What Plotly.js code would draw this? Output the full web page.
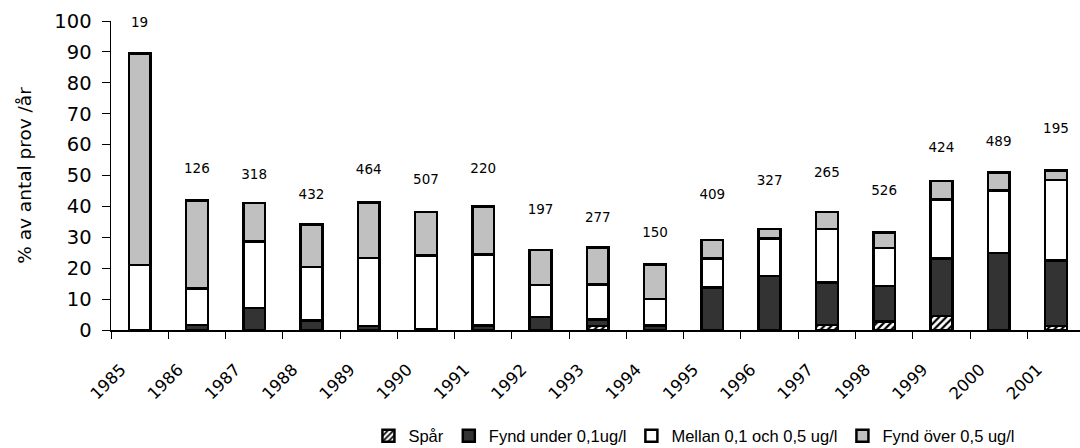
<!DOCTYPE html>
<html>
<head>
<meta charset="utf-8">
<script src="https://cdn.plot.ly/plotly-3.0.1.min.js"></script>
<style>
  html, body { margin: 0; padding: 0; background: #ffffff; }
  #chart { width: 1080px; height: 448px; }
</style>
</head>
<body>
<div id="chart"></div>
<script>
// ---- data ----
const years = ['1985','1986','1987','1988','1989','1990','1991','1992','1993','1994','1995','1996','1997','1998','1999','2000','2001'];
const spar        = [0, 0, 0, 0, 0, 0, 0, 0, 1.3, 0, 0, 0, 1.6, 2.8, 4.5, 0, 1.3];
const fyndUnder   = [0, 1.6, 7.2, 3.0, 1.3, 0.3, 1.5, 4.2, 2.1, 1.5, 13.7, 17.4, 13.8, 11.4, 18.7, 24.9, 21.2];
const mellan      = [21.0, 11.9, 21.4, 17.4, 22.0, 23.8, 23.0, 10.4, 11.4, 8.6, 9.5, 12.2, 17.3, 12.4, 19.0, 20.2, 26.0];
const fyndOver    = [68.5, 28.4, 12.5, 13.7, 18.0, 14.1, 15.5, 11.3, 11.9, 11.1, 6.0, 3.1, 5.5, 4.9, 6.1, 5.9, 3.1];
const sampleCount = ['19','126','318','432','464','507','220','197','277','150','409','327','265','526','424','489','195'];
// level (in %) at which each sample-count label sits
const countLevel  = [99, 51.8, 49.8, 43.4, 51.5, 48.5, 51.8, 38.5, 35.9, 31.1, 43.4, 47.9, 50.5, 44.7, 58.6, 60.5, 64.7];
const seriesNames = ['Spår', 'Fynd under 0,1ug/l', 'Mellan 0,1 och 0,5 ug/l', 'Fynd över 0,5 ug/l'];

// bars sit between year ticks (ticks at boundaries)
const xPos = years.map((_, i) => i + 0.5);
const tickPos = years.map((_, i) => i);

const lineStyle = { color: '#000000', width: 2.5 };
const barW = 0.38;

function barTrace(name, values, marker) {
  return {
    type: 'bar', name: name, x: xPos, y: values, width: barW,
    marker: Object.assign({ line: lineStyle }, marker),
    hoverinfo: 'skip'
  };
}

const traces = [
  barTrace(seriesNames[0], spar, {
    color: '#ffffff',
    pattern: { shape: '/', fgcolor: '#000000', bgcolor: '#ffffff', size: 5, solidity: 0.45, fillmode: 'replace' }
  }),
  barTrace(seriesNames[1], fyndUnder, { color: '#333333' }),
  barTrace(seriesNames[2], mellan, { color: '#ffffff' }),
  barTrace(seriesNames[3], fyndOver, { color: '#c0c0c0' }),
  {
    type: 'scatter', mode: 'text', x: xPos, y: countLevel, text: sampleCount,
    textfont: { family: 'DejaVu Sans', size: 13.5, color: '#000000' },
    textposition: 'middle center', showlegend: false, hoverinfo: 'skip', cliponaxis: false
  }
];

const layout = {
  width: 1080, height: 448,
  margin: { l: 111, r: 0, t: 21, b: 118 },
  paper_bgcolor: '#ffffff', plot_bgcolor: '#ffffff',
  barmode: 'stack',
  showlegend: true,
  font: { family: 'DejaVu Sans', color: '#000000' },
  xaxis: {
    range: [0, 16.92], automargin: false,
    tickmode: 'array', tickvals: tickPos, ticktext: years,
    tickangle: -45,
    tickfont: { family: 'DejaVu Sans', size: 16.5, color: '#000000' },
    ticks: 'outside', ticklen: 7, tickwidth: 1, tickcolor: '#000000',
    ticklabelstandoff: 15, ticklabelshift: 10,
    showline: true, linecolor: '#000000', linewidth: 1.5,
    showgrid: false, zeroline: false, fixedrange: true
  },
  yaxis: {
    range: [0, 100], dtick: 10, tick0: 0, automargin: false,
    tickfont: { family: 'DejaVu Sans', size: 19.5, color: '#000000' },
    ticks: 'outside', ticklen: 8, tickwidth: 1, tickcolor: '#000000',
    ticklabelstandoff: 6,
    showline: true, linecolor: '#000000', linewidth: 1.5,
    showgrid: false, zeroline: false, fixedrange: true,
    title: { text: '% av antal prov /år', font: { family: 'DejaVu Sans', size: 18.5, color: '#000000' }, standoff: 18 }
  },
  legend: {
    orientation: 'h', traceorder: 'normal',
    xref: 'container', x: 0.643, xanchor: 'center',
    yref: 'container', y: 0.027, yanchor: 'middle',
    font: { family: 'Liberation Sans', size: 16.5, color: '#000000' },
    itemwidth: 30, bgcolor: 'rgba(0,0,0,0)'
  }
};

Plotly.newPlot('chart', traces, layout, { displayModeBar: false, staticPlot: true });
</script>
</body>
</html>
